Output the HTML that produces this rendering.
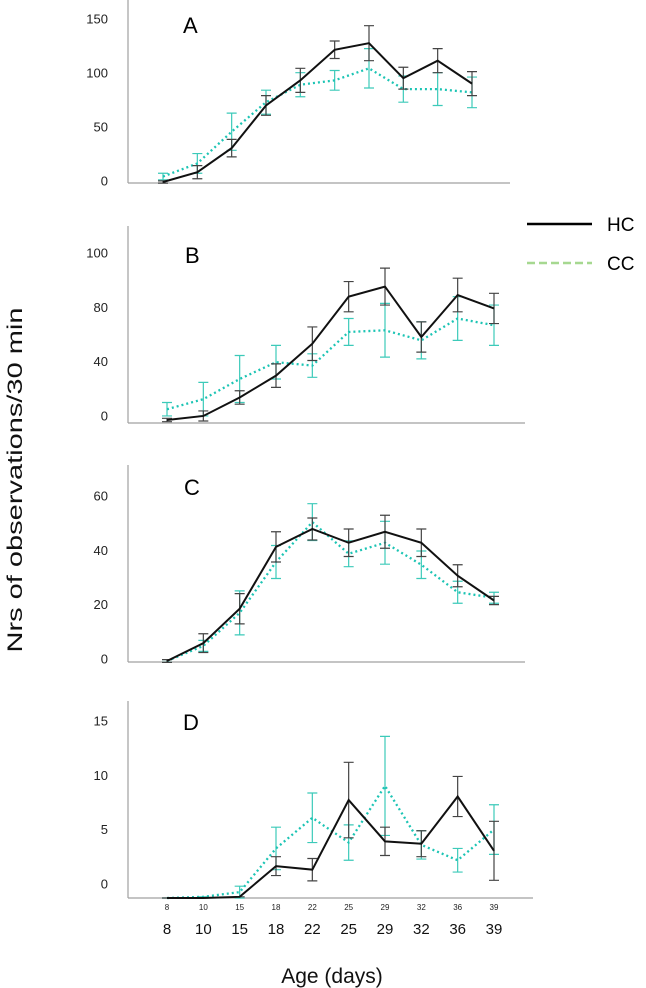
<!DOCTYPE html>
<html><head><meta charset="utf-8"><style>
html,body{margin:0;padding:0;background:#fff;}
svg{display:block;font-family:"Liberation Sans",sans-serif;}
</style></head><body>
<svg id="chart" width="646" height="988" viewBox="0 0 646 988" xmlns="http://www.w3.org/2000/svg">
<text x="0" y="0" transform="translate(22,480) rotate(-90)" text-anchor="middle" font-size="21" textLength="345" lengthAdjust="spacingAndGlyphs" fill="#111">Nrs of observations/30 min</text>
<text x="332" y="983" text-anchor="middle" font-size="21" fill="#111">Age (days)</text>
<g>
<line x1="527" y1="224" x2="592" y2="224" stroke="#000" stroke-width="2.5"/>
<text x="607" y="231" font-size="19" fill="#000">HC</text>
<line x1="527" y1="263" x2="592" y2="263" stroke="#a6d890" stroke-width="2.5" stroke-dasharray="8,4"/>
<text x="607" y="270" font-size="19" fill="#000">CC</text>
</g>
<g id="panels"></g>
</svg>
<script>
const ages = ["8","10","15","18","22","25","29","32","36","39"];
const hcA = [0,9,31,70,93,121,127,95,111,90];
const hcAErr = [1,6,8,9,11,8,16,10,11,11];
const ccA = [5,17,46,73,89,93,104,85,85,82];
const ccAErr = [3,9,17,11,11,9,18,12,15,14];
const hcB = [0.6,3,14,27,46,74,80,50,75,67];
const hcBErr = [1,3,4,7,10,9,11,9,10,9];
const ccB = [7,13,25,35,33,53,54,48,61,57];
const ccBErr = [4,10,14,10,7,8,16,11,13,12];
const hcC = [0,6.5,19,41.5,48,43,47,43,31,22];
const hcCErr = [0.5,3.4,5.5,5.5,4,5,6,5,4,1.5];
const ccC = [0,5.5,17.5,36,50.5,39,43,35,25,23];
const ccCErr = [0.5,2,8,6,6.7,4.7,7.8,5,4,2];
const hcD = [0,0,0.1,2.7,2.4,8.3,4.8,4.6,8.6,4];
const hcDErr = [0,0,0,0.8,0.95,3.2,1.2,1.1,1.7,2.5];
const ccD = [0,0.1,0.5,4.2,6.8,4.7,9.5,4.5,3.2,5.8];
const ccDErr = [0,0,0.5,1.8,2.1,1.5,4.2,1.2,1,2.1];
const ticksA = ["150","100","50","0"];
const ticksB = ["100","80","40","0"];
const ticksC = ["60","40","20","0"];
const ticksD = ["15","10","5","0"];

const NS = "http://www.w3.org/2000/svg";
const root = document.getElementById("panels");
function mk(tag, attrs, parent){
  const e = document.createElementNS(NS, tag);
  for (const k in attrs) e.setAttribute(k, attrs[k]);
  parent.appendChild(e);
  return e;
}
const panels = [
  {id:"a", letter:"A", hc:hcA, hcE:hcAErr, cc:ccA, ccE:ccAErr, ticks:ticksA, top:0, base:183, zero:182, ppu:1.093, x0:163, x1:472, xEnd:510, tTop:19, tBot:181, lx:183, ly:25},
  {id:"b", letter:"B", hc:hcB, hcE:hcBErr, cc:ccB, ccE:ccBErr, ticks:ticksB, top:226, base:423, zero:421, ppu:1.68, x0:167, x1:494, xEnd:525, tTop:253, tBot:416, lx:185, ly:255},
  {id:"c", letter:"C", hc:hcC, hcE:hcCErr, cc:ccC, ccE:ccCErr, ticks:ticksC, top:465, base:662, zero:661, ppu:2.75, x0:167, x1:494, xEnd:525, tTop:496, tBot:659, lx:184, ly:487},
  {id:"d", letter:"D", hc:hcD, hcE:hcDErr, cc:ccD, ccE:ccDErr, ticks:ticksD, top:701, base:898, zero:898, ppu:11.8, x0:167, x1:494, xEnd:533, tTop:721, tBot:884, lx:183, ly:722}
];
panels.forEach(p => {
  const g = mk("g", {}, root);
  
  
  const xs = i => p.x0 + (p.x1 - p.x0) * i / (ages.length - 1);
  const ys = v => p.zero - v * p.ppu;
  const ax = mk("line", {x1:128, y1:p.top, x2:128, y2:p.base, stroke:"#a0a0a0", "stroke-width":1.2}, g);
  
  
  const bx = mk("line", {x1:128, y1:p.base, x2:p.xEnd, y2:p.base, stroke:"#a0a0a0", "stroke-width":1.2}, g);
  
  
  p.ticks.forEach((t, i) => {
    const y = p.tTop + (p.tBot - p.tTop) * i / (p.ticks.length - 1);
    const tl = mk("text", {x:108, y:y + 4.5, "text-anchor":"end", "font-size":13, fill:"#222"}, g);
    tl.textContent = t;
    
    
  });
  const lt = mk("text", {x:p.lx, y:p.ly + 8, "font-size":22, fill:"#000"}, g);
  lt.textContent = p.letter;
  
  
  [["cc", p.cc, p.ccE, "#1cc4b4", "#3ccab9"], ["hc", p.hc, p.hcE, "#111", "#444"]].forEach(([nm, vals, errs, col, ecol]) => {
    vals.forEach((v, i) => {
      const x = xs(i), yl = ys(v - errs[i]), yh = ys(v + errs[i]);
      const eb = mk("path", {d:`M${x},${yl}V${yh}M${x-5},${yl}H${x+5}M${x-5},${yh}H${x+5}`, stroke:ecol, "stroke-width":1.2, fill:"none"}, g);
      
      
    });
    const d = vals.map((v, i) => (i ? "L" : "M") + xs(i) + "," + ys(v)).join("");
    const attrs = {d:d, stroke:col, "stroke-width":2, fill:"none"};
    if (nm === "cc") { attrs["stroke-dasharray"] = "2,3"; attrs["stroke-width"] = 2.3; }
    const ln = mk("path", attrs, g);
    
    
  });
  if (p.id === "d") {
    ages.forEach((a, i) => {
      const s = mk("text", {x:xs(i), y:910, "text-anchor":"middle", "font-size":8, fill:"#222"}, g);
      s.textContent = a;
      
      
      const b = mk("text", {x:xs(i), y:934, "text-anchor":"middle", "font-size":15, fill:"#111"}, g);
      b.textContent = a;
      
      
    });
  }
});
</script>
</body></html>
